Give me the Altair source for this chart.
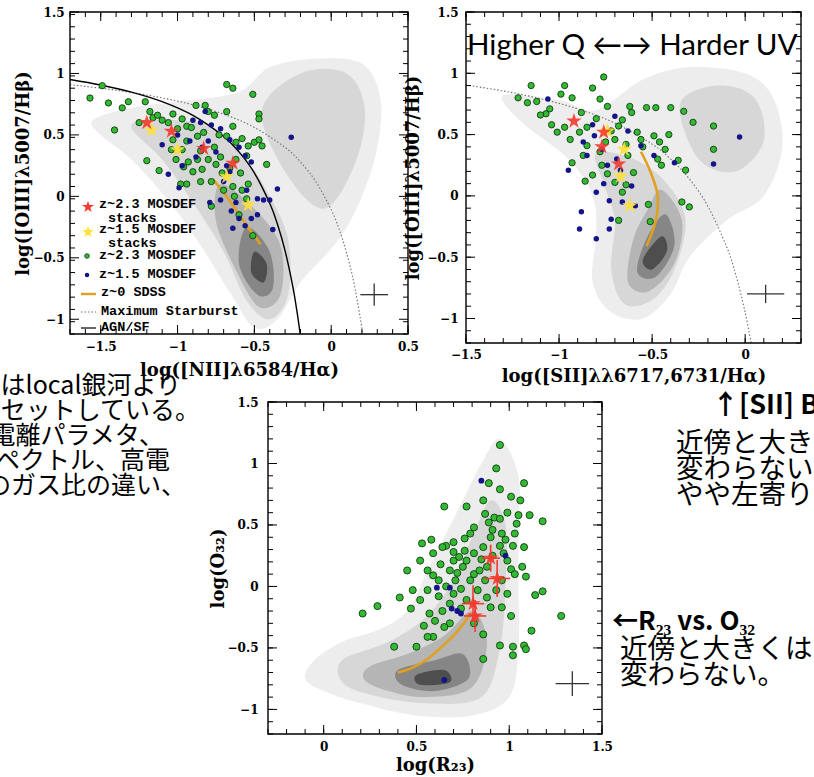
import altair as alt
import pandas as pd

W, H = 814, 777

# ---------------- panel 1 : [NII] BPT ----------------
P1_GREEN = [(-1.57,0.80),(-1.49,0.90),(-1.45,0.76),(-1.41,0.54),(-1.36,0.72),(-1.32,0.77),(-1.21,0.77),(-1.25,0.60),
            (-1.18,0.69),(-1.16,0.64),(-1.13,0.66),(-1.10,0.62),(-1.06,0.60),(-1.03,0.67),(-1.00,0.55),(-0.97,0.63),
            (-0.94,0.57),(-0.88,0.74),(-0.82,0.74),(-0.80,0.69),(-0.76,0.66),(-0.68,0.91),(-0.64,0.88),(-0.51,0.83),
            (-0.68,0.69),(-0.64,0.57),(-0.47,0.67),(-0.47,0.63),(-0.50,0.44),(-0.54,0.41),(-0.55,0.33),(-0.42,0.26),
            (-0.68,0.49),(-0.73,0.50),(-0.83,0.52),(-0.87,0.49),(-0.91,0.56),(-0.94,0.45),(-0.97,0.38),(-1.03,0.46),
            (-0.85,0.37),(-0.87,0.30),(-0.80,0.30),(-0.75,0.26),(-0.72,0.32),(-0.84,0.22),(-0.85,0.12),(-0.78,0.12),
            (-0.71,0.19),(-0.66,0.23),(-0.62,0.30),(-0.59,0.19),(-0.64,0.08),(-0.63,0.00),(-0.55,-0.02),(-0.58,0.05),
            (-0.54,0.10),(-0.78,-0.08),(-1.12,0.21),(-1.20,0.29),(-1.04,0.38),(-1.01,0.30),(-0.96,0.24),(-0.93,0.28),
            (-0.90,0.20),(-0.94,0.10),(-0.98,0.10),(-0.51,-0.32),(-0.60,-0.15),(-0.70,0.05),(-0.76,0.40),(-0.62,0.44),
            (-0.58,0.47),(-0.47,0.46),(-0.45,0.41)]
P1_BLUE = [(-0.82,0.69),(-0.85,0.60),(-0.78,0.58),(-0.72,0.55),(-0.66,0.46),(-0.60,0.40),(-0.56,0.33),(-0.52,0.28),
           (-0.26,0.48),(-1.10,0.42),(-1.06,0.18),(-0.99,0.07),(-0.97,0.25),(-0.88,0.32),(-0.80,0.45),(-0.75,0.36),
           (-0.70,0.12),(-0.66,0.20),(-0.62,-0.05),(-0.72,-0.03),(-0.79,-0.05),(-0.65,-0.12),(-0.60,-0.18),(-0.64,-0.26),
           (-0.56,-0.24),(-0.52,-0.18),(-0.48,-0.15),(-0.44,-0.03),(-0.40,-0.03),(-0.38,-0.27),(-0.35,0.06),(-0.48,-0.02),
           (-0.55,0.05),(-0.68,0.25),(-0.92,0.45),(-0.84,0.40),(-1.00,0.50),(-0.90,0.62)]
P1_RED = [(-1.20,0.60),(-1.04,0.53),(-0.83,0.39),(-0.64,0.27)]
P1_YELLOW = [(-1.17,0.54),(-1.00,0.38),(-0.68,0.16),(-0.54,-0.07)]
P1_SDSS = [(-0.77,0.14),(-0.67,-0.02),(-0.57,-0.20),(-0.46,-0.39)]
P1_MAXSB = [(-1.7,0.909),(-1.5,0.880),(-1.3,0.845),(-1.1,0.801),(-0.9,0.745),(-0.7,0.669),(-0.5,0.561),(-0.3,0.398),
            (-0.2,0.280),(-0.1,0.120),(0.0,-0.108),(0.05,-0.262),(0.1,-0.459),(0.15,-0.716),(0.2,-1.069),(0.206,-1.12)]
P1_AGNSF = [(-1.7,0.951),(-1.5,0.906),(-1.3,0.848),(-1.1,0.770),(-0.9,0.658),(-0.7,0.487),(-0.6,0.362),(-0.5,0.191),
            (-0.4,-0.056),(-0.35,-0.225),(-0.3,-0.443),(-0.25,-0.733),(-0.22,-0.959),(-0.202,-1.12)]
P1_ERR = [(0.28,-0.80,0.09,0.09)]
P1_CLOUD = [
    (1, [(-1.55,0.62),(-1.3,0.72),(-0.95,0.78),(-0.6,0.85),(-0.4,1.05),(-0.1,1.12),(0.2,1.08),(0.32,0.8),(0.3,0.4),
         (0.2,0.0),(0.05,-0.35),(-0.2,-0.7),(-0.35,-1.0),(-0.5,-1.07),(-0.65,-0.8),(-0.85,-0.4),(-1.05,-0.05),
         (-1.3,0.3),(-1.5,0.5)]),
    (2, [(-1.3,0.58),(-1.0,0.62),(-0.75,0.55),(-0.55,0.3),(-0.4,0.0),(-0.28,-0.35),(-0.28,-0.8),(-0.4,-1.0),
         (-0.55,-0.85),(-0.7,-0.45),(-0.9,-0.05),(-1.1,0.3)]),
    (2, [(-0.45,0.7),(-0.2,1.0),(0.1,1.0),(0.22,0.7),(0.15,0.25),(-0.05,-0.1),(-0.3,0.2)]),
    (3, [(-0.72,0.1),(-0.5,-0.1),(-0.33,-0.4),(-0.33,-0.8),(-0.47,-0.9),(-0.62,-0.6),(-0.75,-0.2)]),
    (4, [(-0.55,-0.25),(-0.4,-0.45),(-0.38,-0.75),(-0.48,-0.8),(-0.6,-0.55)]),
    (5, [(-0.5,-0.45),(-0.42,-0.55),(-0.44,-0.7),(-0.52,-0.62)]),
]

# ---------------- panel 2 : [SII] BPT ----------------
P2_GREEN = [(-1.22,0.80),(-1.15,0.90),(-1.17,0.76),(-1.12,0.77),(-1.07,0.67),(-1.05,0.71),(-0.97,0.90),(-0.99,0.83),
            (-0.93,0.80),(-0.82,0.88),(-0.76,0.97),(-0.78,0.79),(-0.74,0.73),(-0.62,0.73),(-0.61,0.68),(-0.53,0.72),
            (-0.48,0.72),(-0.40,0.72),(-0.33,0.69),(-0.28,0.60),(-0.17,0.57),(-0.17,0.38),(-0.32,0.21),(-0.30,-0.09),
            (-0.34,-0.05),(-0.52,-0.07),(-0.51,-0.21),(-0.68,-0.20),(-0.66,0.03),(-0.41,0.50),(-0.46,0.44),(-0.49,0.49),
            (-0.43,0.38),(-0.47,0.30),(-0.45,0.25),(-0.36,0.29),(-0.56,0.46),(-0.58,0.52),(-0.68,0.57),(-0.72,0.53),
            (-0.85,0.56),(-0.89,0.52),(-0.97,0.56),(-1.01,0.52),(-1.04,0.58),(-0.94,0.46),(-0.87,0.33),(-0.93,0.27),
            (-0.86,0.12),(-0.82,0.17),(-0.77,0.25),(-0.74,0.18),(-0.70,0.11),(-0.64,0.09),(-0.60,0.19),(-0.85,0.41),
            (-0.78,0.36),(-0.70,0.46),(-0.63,0.33),(-0.80,0.63),(-0.88,0.68),(-1.10,0.66),(-0.66,0.62),(-0.55,0.40),
            (-0.64,0.42),(-0.75,0.44)]
P2_BLUE = [(-1.06,0.79),(-0.95,0.21),(-0.88,-0.13),(-0.89,-0.27),(-0.80,-0.35),(-0.73,-0.27),(-0.72,-0.19),(-0.73,-0.04),
           (-0.80,0.03),(-0.69,0.30),(-0.67,0.21),(-0.77,0.38),(-0.81,0.49),(-0.70,0.65),(-0.61,0.08),(-0.59,-0.08),
           (-0.56,0.41),(-0.49,0.33),(-0.17,0.26),(-0.03,0.48),(-0.38,0.27),(-0.74,0.25),(-0.85,0.33),(-0.87,0.44),
           (-0.63,0.53),(-0.66,-0.05),(-0.76,0.10),(-0.82,0.58)]
P2_RED = [(-0.92,0.61),(-0.76,0.52),(-0.77,0.40),(-0.68,0.26)]
P2_YELLOW = [(-0.74,0.53),(-0.65,0.38),(-0.67,0.16),(-0.62,-0.08)]
P2_SDSS = [(-0.56,0.36),(-0.51,0.20),(-0.47,0.00),(-0.48,-0.20),(-0.53,-0.41)]
P2_MAXSB = [(-1.5,0.904),(-1.3,0.856),(-1.1,0.793),(-0.9,0.710),(-0.7,0.594),(-0.5,0.422),(-0.4,0.300),(-0.3,0.139),
            (-0.2,-0.085),(-0.1,-0.414),(-0.05,-0.646),(0.0,-0.950),(0.032,-1.2)]
P2_ERR = [(0.11,-0.80,0.10,0.075)]
P2_CLOUD = [
    (1, [(-1.3,0.82),(-1.0,0.78),(-0.8,0.7),(-0.55,0.95),(-0.3,1.05),(0.0,1.0),(0.15,0.8),(0.2,0.4),(0.1,0.0),
         (-0.1,-0.2),(-0.3,-0.5),(-0.4,-0.8),(-0.55,-1.0),(-0.72,-0.95),(-0.82,-0.7),(-0.8,-0.3),(-0.82,0.0),
         (-0.95,0.3),(-1.2,0.6)]),
    (2, [(-0.8,0.35),(-0.6,0.3),(-0.42,0.1),(-0.32,-0.2),(-0.38,-0.6),(-0.5,-0.85),(-0.65,-0.88),(-0.72,-0.6),
         (-0.7,-0.2),(-0.76,0.1)]),
    (2, [(-0.35,0.75),(-0.15,0.9),(0.05,0.8),(0.1,0.45),(-0.05,0.2),(-0.25,0.3)]),
    (3, [(-0.45,0.05),(-0.34,-0.2),(-0.38,-0.55),(-0.52,-0.78),(-0.63,-0.7),(-0.6,-0.35),(-0.52,-0.1)]),
    (4, [(-0.43,-0.15),(-0.38,-0.4),(-0.48,-0.66),(-0.58,-0.62),(-0.53,-0.35)]),
    (5, [(-0.45,-0.33),(-0.42,-0.45),(-0.5,-0.6),(-0.55,-0.52)]),
]

# ---------------- panel 3 : R23 vs O32 ----------------
P3_GREEN = [(0.95,1.15),(0.93,0.96),(0.89,0.84),(0.95,0.79),(1.08,0.84),(1.01,0.73),(1.06,0.70),(0.86,0.70),
            (0.77,0.65),(0.65,0.65),(0.87,0.59),(0.99,0.60),(0.92,0.56),(0.89,0.52),(0.95,0.55),(1.05,0.58),
            (1.11,0.58),(1.18,0.53),(1.04,0.51),(1.03,0.43),(0.96,0.43),(0.91,0.46),(0.81,0.48),(0.79,0.43),
            (0.76,0.39),(0.70,0.36),(0.66,0.33),(0.53,0.35),(0.58,0.38),(0.64,0.32),(0.70,0.28),(0.76,0.29),
            (0.81,0.27),(0.86,0.32),(0.95,0.33),(1.02,0.33),(1.08,0.32),(0.99,0.21),(1.01,0.14),(1.03,0.10),
            (1.07,0.16),(1.09,0.08),(0.96,0.05),(0.93,-0.03),(0.99,-0.06),(0.96,-0.17),(1.01,-0.24),(1.12,-0.36),
            (1.14,-0.07),(1.18,-0.04),(1.28,-0.24),(1.08,-0.48),(1.02,-0.49),(0.95,-0.48),(1.09,-0.51),(1.02,-0.56),
            (0.86,-0.59),(0.86,-0.39),(0.81,-0.30),(0.74,-0.18),(0.77,-0.11),(0.70,-0.06),(0.68,-0.14),(0.64,-0.20),
            (0.68,-0.30),(0.65,-0.33),(0.59,-0.41),(0.56,-0.41),(0.54,-0.32),(0.50,-0.49),(0.62,0.05),(0.66,0.00),
            (0.71,0.05),(0.59,0.09),(0.56,0.13),(0.63,0.18),(0.70,0.21),(0.75,0.16),(0.81,0.10),(0.84,0.13),
            (0.88,0.16),(0.79,0.05),(0.83,-0.03),(0.88,-0.09),(0.90,-0.17),(0.52,-0.11),(0.56,-0.03),(0.48,-0.03),
            (0.41,-0.09),(0.45,0.13),(0.52,0.21),(0.59,0.27),(0.47,-0.18),(0.29,-0.16),(0.21,-0.22),(0.38,-0.49),
            (0.60,-0.28),(0.77,0.21),(0.73,0.24),(0.68,0.13),(0.91,0.25),(0.97,0.27),(0.87,0.05),(0.74,-0.02),
            (0.62,-0.08),(0.57,-0.22),(0.90,0.40),(0.98,0.38),(0.85,0.22),(0.72,0.11)]
P3_BLUE = [(0.85,0.86),(0.61,-0.01),(0.68,-0.01),(0.69,-0.18),(0.72,-0.20),(0.74,-0.22),(0.98,0.25),(0.65,-0.76)]
P3_RED = [(0.90,0.23),(0.935,0.065),(0.805,-0.14),(0.816,-0.24)]
P3_RED_XERR = [0.05,0.07,0.06,0.06]
P3_RED_YERR = [0.11,0.15,0.15,0.13]
P3_SDSS = [(0.40,-0.70),(0.48,-0.66),(0.56,-0.59),(0.63,-0.50),(0.70,-0.40),(0.75,-0.31),(0.79,-0.22)]
P3_ERR = [(1.34,-0.79,0.09,0.10)]
P3_CLOUD = [
    (1, [(-0.05,-0.6),(0.1,-0.45),(0.3,-0.35),(0.45,-0.2),(0.55,0.1),(0.65,0.4),(0.75,0.7),(0.85,1.0),(0.95,1.2),
         (1.05,0.9),(1.05,0.5),(1.05,0.0),(1.05,-0.5),(1.0,-0.9),(0.8,-1.05),(0.5,-1.05),(0.2,-0.95),(0.0,-0.85),
         (-0.1,-0.75)]),
    (2, [(0.1,-0.6),(0.35,-0.45),(0.55,-0.25),(0.7,0.05),(0.8,0.4),(0.9,0.7),(0.98,0.5),(0.98,0.0),(0.95,-0.5),
         (0.85,-0.9),(0.55,-0.95),(0.25,-0.88),(0.1,-0.78)]),
    (3, [(0.25,-0.65),(0.45,-0.55),(0.65,-0.4),(0.8,-0.2),(0.88,-0.45),(0.8,-0.82),(0.55,-0.9),(0.35,-0.85),(0.22,-0.76)]),
    (4, [(0.4,-0.68),(0.6,-0.6),(0.75,-0.55),(0.78,-0.75),(0.6,-0.85),(0.42,-0.8)]),
    (5, [(0.5,-0.72),(0.65,-0.68),(0.68,-0.78),(0.52,-0.8)]),
]

# ---------------- text ----------------
TITLE_P1_X = "log([NII]λ6584/Hα)"
TITLE_P2_X = "log([SII]λλ6717,6731/Hα)"
TITLE_BPT_Y = "log([OIII]λ5007/Hβ)"
TITLE_P3_X = "log(R₂₃)"
TITLE_P3_Y = "log(O₃₂)"
LEGEND_LABELS = ["z~2.3 MOSDEF", "stacks", "z~1.5 MOSDEF", "stacks", "z~2.3 MOSDEF", "z~1.5 MOSDEF",
                 "z~0 SDSS", "Maximum Starburst", "AGN/SF"]
HEADLINE = "Higher Q ←→ Harder UV"
LEFT_LINES = ["はlocal銀河より", "セットしている。", "電離パラメタ、", "スペクトル、高電", "のガス比の違い、"]
RIGHT_TOP = ["↑[SII] B", "近傍と大き", "変わらない", "やや左寄り"]
RIGHT_BOTTOM = ["←R₂₃ vs. O₃₂", "近傍と大きくは", "変わらない。"]

# ---------------- styles ----------------
GREEN, GREEN_EDGE, BLUE = "#34b934", "#103c10", "#141488"
RED, YELLOW, ORANGE = "#f23a2e", "#ffe03a", "#e0a020"
CLOUD_COLORS = ["#ededed", "#d7d7d7", "#b5b5b5", "#868686", "#4e4e4e"]
STAR = ("M0,-1L0.2245,-0.309L0.951,-0.309L0.363,0.118L0.588,0.809L0,0.382"
        "L-0.588,0.809L-0.363,0.118L-0.951,-0.309L-0.2245,-0.309Z")
SERIF = "DejaVu Serif"
JP = "Noto Sans CJK JP"


def pairs_df(pairs):
    return pd.DataFrame({"x": [p[0] for p in pairs], "y": [p[1] for p in pairs], "i": list(range(len(pairs)))})


def cloud_df(polys):
    rows = []
    for k, (lvl, poly) in enumerate(polys):
        for i, (x, y) in enumerate(poly):
            rows.append({"poly": k, "lvl": lvl, "i": i, "x": x, "y": y})
    return pd.DataFrame(rows)


def steps(a, b, s):
    n = int(round((b - a) / s))
    return [round(a + s * k, 2) for k in range(n + 1)]


def axis(orient, offset, values, title, lpad, tpad):
    return alt.Axis(orient=orient, offset=offset, values=values, format="~g", title=title,
                    ticks=False, domain=False, grid=False, labelFlush=False, labelOverlap=False,
                    labelPadding=lpad, titlePadding=tpad, labelFont=SERIF, labelFontWeight="bold",
                    labelFontSize=12, labelColor="black", titleFont=SERIF, titleFontWeight="bold",
                    titleFontSize=18, titleColor="black")


def panel(p):
    xs = alt.Scale(domain=p["xdom"], range=p["xpx"], nice=False, zero=False)
    ys = alt.Scale(domain=p["ydom"], range=p["ypx"], nice=False, zero=False)
    xax, yax = p["xaxis"], p["yaxis"]

    def X(f):
        return alt.X(f, type="quantitative", scale=xs, axis=xax)

    def Y(f):
        return alt.Y(f, type="quantitative", scale=ys, axis=yax)

    layers = []
    cdf = cloud_df(p["cloud"])
    for lvl, col in enumerate(CLOUD_COLORS, start=1):
        layers.append(alt.Chart(cdf).transform_filter(f"datum.lvl == {lvl}")
                      .mark_line(filled=True, interpolate="cardinal-closed", color=col, opacity=1)
                      .encode(x=X("x"), y=Y("y"), detail="poly:N", order="i:Q"))
    if "maxsb" in p:
        layers.append(alt.Chart(pairs_df(p["maxsb"])).mark_line(
            interpolate="cardinal", color="#707070", strokeWidth=1.1, strokeDash=[1.5, 2])
            .encode(x=X("x"), y=Y("y"), order="i:Q"))
    if "agnsf" in p:
        layers.append(alt.Chart(pairs_df(p["agnsf"])).mark_line(
            interpolate="cardinal", color="black", strokeWidth=1.4)
            .encode(x=X("x"), y=Y("y"), order="i:Q"))
    layers.append(alt.Chart(pairs_df(p["sdss"])).mark_line(
        interpolate="cardinal", color=ORANGE, strokeWidth=2.6)
        .encode(x=X("x"), y=Y("y"), order="i:Q"))
    # representative error cross
    e = pd.DataFrame(p["err"], columns=["x", "y", "ex", "ey"])
    eb = alt.Chart(e).transform_calculate(x0="datum.x-datum.ex", x1="datum.x+datum.ex",
                                          y0="datum.y-datum.ey", y1="datum.y+datum.ey")
    layers.append(eb.mark_rule(color="#333333", strokeWidth=1.3).encode(x=X("x0"), x2="x1:Q", y=Y("y")))
    layers.append(eb.mark_rule(color="#333333", strokeWidth=1.3).encode(x=X("x"), y=Y("y0"), y2="y1:Q"))
    layers.append(alt.Chart(pairs_df(p["green"])).mark_circle(
        size=p["gsize"], color=GREEN, stroke=GREEN_EDGE, strokeWidth=0.9, opacity=1).encode(x=X("x"), y=Y("y")))
    layers.append(alt.Chart(pairs_df(p["blue"])).mark_circle(
        size=p["bsize"], color=BLUE, opacity=1).encode(x=X("x"), y=Y("y")))
    if "yellow" in p:
        layers.append(alt.Chart(pairs_df(p["yellow"])).mark_point(
            shape=STAR, filled=True, size=260, color=YELLOW, opacity=0.92).encode(x=X("x"), y=Y("y")))
    if "red_err" in p:
        r = pairs_df(p["red"])
        r["ex"], r["ey"] = p["red_err"]
        rb = alt.Chart(r).transform_calculate(x0="datum.x-datum.ex", x1="datum.x+datum.ex",
                                              y0="datum.y-datum.ey", y1="datum.y+datum.ey")
        layers.append(rb.mark_rule(color=RED, strokeWidth=1.6).encode(x=X("x0"), x2="x1:Q", y=Y("y")))
        layers.append(rb.mark_rule(color=RED, strokeWidth=1.6).encode(x=X("x"), y=Y("y0"), y2="y1:Q"))
    layers.append(alt.Chart(pairs_df(p["red"])).mark_point(
        shape=STAR, filled=True, size=260, color=RED, opacity=0.9).encode(x=X("x"), y=Y("y")))
    # frame
    (x0, x1), (y0, y1) = p["xdom"], p["ydom"]
    fr = pd.DataFrame({"a": [x0], "b": [x1], "c": [y0], "d": [y1]})
    layers.append(alt.Chart(fr).mark_rect(fillOpacity=0, stroke="black", strokeWidth=1.4).encode(
        x=X("a"), x2="b:Q", y=Y("c"), y2="d:Q"))
    # inward ticks on all four sides
    for vals, ln in ((p["xmaj"], 9), (steps(x0, x1, 0.1), 5)):
        d = pd.DataFrame({"v": vals})
        for yb, off in ((y0, -ln / 2), (y1, ln / 2)):
            layers.append(alt.Chart(d).transform_calculate(b=str(yb)).mark_tick(
                orient="vertical", size=ln, thickness=1, yOffset=off, color="black", opacity=1)
                .encode(x=X("v"), y=Y("b")))
    for vals, ln in ((p["ymaj"], 9), (steps(y0, y1, 0.1), 5)):
        d = pd.DataFrame({"v": vals})
        for xb, off in ((x0, ln / 2), (x1, -ln / 2)):
            layers.append(alt.Chart(d).transform_calculate(b=str(xb)).mark_tick(
                orient="horizontal", size=ln, thickness=1, xOffset=off, color="black", opacity=1)
                .encode(x=X("b"), y=Y("v")))
    return alt.layer(*layers)


YMAJ = [-1, -0.5, 0, 0.5, 1, 1.5]
P1 = dict(xdom=[-1.7, 0.5], xpx=[70, 408], ydom=[-1.12, 1.5], ypx=[334, 12],
          xmaj=[-1.5, -1, -0.5, 0, 0.5], ymaj=YMAJ, gsize=40, bsize=30,
          xaxis=axis("bottom", 334 - H, [-1.5, -1, -0.5, 0, 0.5], TITLE_P1_X, 7, 9),
          yaxis=axis("left", -70, YMAJ, TITLE_BPT_Y, 6, 1),
          cloud=P1_CLOUD, green=P1_GREEN, blue=P1_BLUE, red=P1_RED, yellow=P1_YELLOW,
          sdss=P1_SDSS, maxsb=P1_MAXSB, agnsf=P1_AGNSF, err=P1_ERR)
P2 = dict(xdom=[-1.5, 0.3], xpx=[466, 801], ydom=[-1.2, 1.5], ypx=[343, 12],
          xmaj=[-1.5, -1, -0.5, 0], ymaj=YMAJ, gsize=40, bsize=30,
          xaxis=axis("bottom", 343 - H, [-1.5, -1, -0.5, 0], TITLE_P2_X, 6, 7),
          yaxis=axis("left", -466, YMAJ, TITLE_BPT_Y, 8, 5),
          cloud=P2_CLOUD, green=P2_GREEN, blue=P2_BLUE, red=P2_RED, yellow=P2_YELLOW,
          sdss=P2_SDSS, maxsb=P2_MAXSB, err=P2_ERR)
P3 = dict(xdom=[-0.3, 1.5], xpx=[268, 602], ydom=[-1.2, 1.5], ypx=[734, 402],
          xmaj=[0, 0.5, 1, 1.5], ymaj=YMAJ, gsize=50, bsize=34,
          xaxis=axis("bottom", 734 - H, [0, 0.5, 1, 1.5], TITLE_P3_X, 7, 4),
          yaxis=axis("left", -268, YMAJ, TITLE_P3_Y, 10, 0),
          cloud=P3_CLOUD, green=P3_GREEN, blue=P3_BLUE, red=P3_RED,
          red_err=(P3_RED_XERR, P3_RED_YERR), sdss=P3_SDSS, err=P3_ERR)


def txt(s, x, y, size, font, weight="normal", align="left", baseline="middle"):
    return alt.Chart(pd.DataFrame({"t": [s]})).mark_text(
        align=align, baseline=baseline, font=font, fontSize=size, fontWeight=weight, color="black"
    ).encode(x=alt.value(x), y=alt.value(y), text="t:N")


def sym(x, y, shape, color, size, stroke=None):
    kw = dict(shape=shape, filled=True, size=size, color=color, opacity=1)
    if stroke:
        kw.update(stroke=stroke, strokeWidth=0.8)
    return alt.Chart(pd.DataFrame({"k": [0]})).mark_point(**kw).encode(x=alt.value(x), y=alt.value(y))


def seg(x1, x2, y, color, width, dash=None):
    kw = dict(color=color, strokeWidth=width)
    if dash:
        kw["strokeDash"] = dash
    return alt.Chart(pd.DataFrame({"k": [0]})).mark_rule(**kw).encode(
        x=alt.value(x1), x2=alt.value(x2), y=alt.value(y))


LEG = "Liberation Mono"
legend = [
    sym(88, 207, STAR, RED, 160), sym(88, 232, STAR, YELLOW, 160),
    sym(87, 256, "circle", GREEN, 22, GREEN_EDGE), sym(87, 275, "circle", BLUE, 20),
    seg(81, 96, 294, ORANGE, 2.4), seg(81, 96, 312, "#707070", 1.1, [1.5, 2]), seg(81, 96, 328, "black", 1.2),
]
for lab, yy, xx in zip(LEGEND_LABELS, [204, 218, 229, 243, 255, 274, 292, 311, 327],
                       [99, 108, 99, 108, 99, 99, 101, 101, 101]):
    legend.append(txt(lab, xx, yy, 13.5, LEG, "bold"))

notes = [txt(HEADLINE, 467, 55, 29.5, "Lato", baseline="alphabetic")]
for s, xe, yy in zip(LEFT_LINES, [181, 200, 164, 170, 186], [386, 411, 436, 461, 486]):
    notes.append(txt(s, xe, yy, 25, JP, align="right"))
notes.append(txt(RIGHT_TOP[0], 712, 406, 27, JP, "bold"))
for s, yy in zip(RIGHT_TOP[1:], [444, 470, 496]):
    notes.append(txt(s, 676, yy, 27.5, JP))
notes.append(txt(RIGHT_BOTTOM[0], 612, 622, 26, JP, "bold"))
for s, yy in zip(RIGHT_BOTTOM[1:], [650, 676]):
    notes.append(txt(s, 620, yy, 27.5, JP))

chart = alt.layer(panel(P1), panel(P2), panel(P3), *legend, *notes).resolve_scale(
    x="independent", y="independent"
).properties(
    width=W, height=H, autosize=alt.AutoSizeParams(type="none"), padding=0, background="white"
).configure_view(stroke=None)

chart.save("out.html", embed_options={"renderer": "svg", "actions": False})
